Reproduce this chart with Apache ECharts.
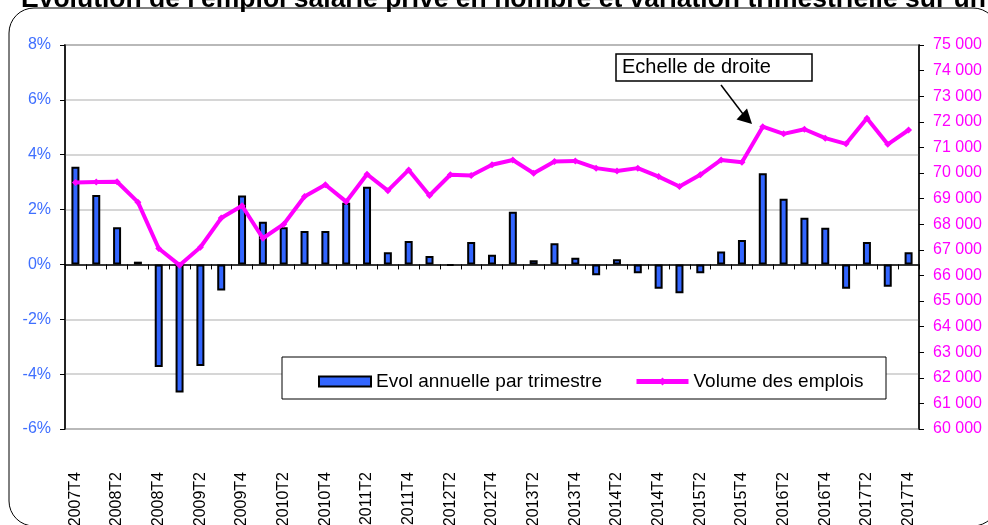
<!DOCTYPE html>
<html>
<head>
<meta charset="utf-8">
<script src="https://cdn.jsdelivr.net/npm/echarts@6/dist/echarts.min.js"></script>
<style>
  html, body { margin: 0; padding: 0; background: #fff; }
  #chart { width: 988px; height: 525px; }
</style>
</head>
<body>
<div id="chart"></div>
<script>
// trimestres 2007T4 -> 2017T4
var quarters = [];
for (var y = 2007; y <= 2017; y++) {
  for (var q = 1; q <= 4; q++) {
    if (y === 2007 && q < 4) continue;
    quarters.push(y + 'T' + q);
  }
}

// évolution annuelle par trimestre (%)
var evolAnnuelle = [
  3.56, 2.53, 1.36, 0.10, -3.74, -4.67, -3.70, -0.95, 2.51, 1.56,
  1.36, 1.22, 1.22, 2.25, 2.83, 0.44, 0.85, 0.31, -0.05, 0.82,
  0.35, 1.92, 0.15, 0.77, 0.24, -0.39, 0.19, -0.32, -0.89, -1.05,
  -0.32, 0.47, 0.89, 3.32, 2.39, 1.70, 1.34, -0.89, 0.82, -0.81,
  0.44
];

// volume des emplois (échelle de droite)
var volumeEmplois = [
  69630, 69650, 69660, 68860, 67050, 66400, 67100, 68240, 68720, 67450,
  68000, 69080, 69540, 68880, 69950, 69310, 70120, 69120, 69930, 69900,
  70320, 70510, 69990, 70450, 70470, 70190, 70080, 70190, 69860, 69470,
  69930, 70510, 70420, 71810, 71530, 71710, 71360, 71140, 72140, 71120,
  71680
];

var seriesNames = ['Evol annuelle par trimestre', 'Volume des emplois'];
var fontFam = '"Liberation Sans", Arial, sans-serif';

var chart = echarts.init(document.getElementById('chart'));
chart.setOption({
  animation: false,
  textStyle: { fontFamily: fontFam },
  grid: {
    left: 65,
    right: 69,
    top: 45,
    bottom: 96,
    outerBoundsMode: 'none',
    show: true,
    borderColor: '#8a8a8a',
    borderWidth: 2
  },
  legend: {
    data: [
      {
        name: seriesNames[0],
        icon: 'rect',
        itemStyle: { color: '#3366ff', borderColor: '#000', borderWidth: 2 }
      },
      {
        name: seriesNames[1],
        lineStyle: { color: '#ff00ff', width: 5 }
      }
    ],
    left: 313,
    top: 367,
    itemWidth: 52,
    itemHeight: 10,
    itemGap: 32,
    textStyle: { fontSize: 19, color: '#000', fontFamily: fontFam },
    z: 20
  },
  xAxis: [
    {
      type: 'category',
      data: quarters,
      position: 'bottom',
      axisLine: { onZero: true, lineStyle: { color: '#000', width: 1.5 } },
      axisTick: { show: true, interval: 0, length: 5, lineStyle: { color: '#000' } },
      axisLabel: { show: false },
      splitLine: { show: false }
    },
    {
      type: 'category',
      data: quarters,
      position: 'bottom',
      axisLine: { show: false, onZero: false },
      axisTick: { show: false },
      axisLabel: {
        interval: 1,
        rotate: 90,
        margin: 43,
        fontSize: 16,
        color: '#000',
        fontFamily: fontFam
      },
      splitLine: { show: false }
    }
  ],
  yAxis: [
    {
      type: 'value',
      min: -6,
      max: 8,
      interval: 2,
      axisLine: { show: true, lineStyle: { color: '#000', width: 1.5 } },
      axisTick: { show: true, length: 5, lineStyle: { color: '#000' } },
      axisLabel: {
        formatter: '{value}%',
        color: '#3f6fff',
        fontSize: 16,
        margin: 14,
        fontFamily: fontFam
      },
      splitLine: { show: true, lineStyle: { color: '#c8c8c8', width: 1.5 } }
    },
    {
      type: 'value',
      min: 60000,
      max: 75000,
      interval: 1000,
      position: 'right',
      axisLine: { show: true, lineStyle: { color: '#000', width: 1.5 } },
      axisTick: { show: true, length: 5, lineStyle: { color: '#000' } },
      axisLabel: {
        color: '#ff00ff',
        fontSize: 16,
        margin: 14,
        fontFamily: fontFam,
        formatter: function (v) {
          return String(v).replace(/\B(?=(\d{3})+(?!\d))/g, ' ');
        }
      },
      splitLine: { show: false }
    }
  ],
  series: [
    {
      name: seriesNames[0],
      type: 'bar',
      xAxisIndex: 0,
      yAxisIndex: 0,
      data: evolAnnuelle,
      barWidth: 8,
      itemStyle: { color: '#3366ff', borderColor: '#000', borderWidth: 2 }
    },
    {
      name: seriesNames[1],
      type: 'line',
      xAxisIndex: 0,
      yAxisIndex: 1,
      data: volumeEmplois,
      symbol: 'diamond',
      symbolSize: 7,
      lineStyle: { color: '#ff00ff', width: 4 },
      itemStyle: { color: '#ff00ff' },
      z: 5
    }
  ],
  graphic: [
    {
      type: 'rect',
      shape: { x: 9, y: 8, width: 989, height: 518, r: 25 },
      style: { fill: 'none', stroke: '#000', lineWidth: 1 },
      silent: true,
      z: 1
    },
    {
      type: 'text',
      left: 21,
      top: -14,
      style: {
        text: "Evolution de l'emploi salarié privé en nombre et variation trimestrielle sur un an",
        font: 'bold 26.5px ' + fontFam,
        fill: '#000'
      },
      z: 30
    },
    {
      type: 'rect',
      shape: { x: 282, y: 357, width: 604, height: 42 },
      style: { fill: '#fff', stroke: '#000', lineWidth: 1 },
      z: 10
    },
    {
      type: 'rect',
      shape: { x: 616, y: 54, width: 196, height: 27 },
      style: { fill: '#fff', stroke: '#000', lineWidth: 1.5 },
      z: 10
    },
    {
      type: 'text',
      left: 622,
      top: 57,
      style: {
        text: 'Echelle de droite',
        font: '20px ' + fontFam,
        fill: '#000'
      },
      z: 11
    },
    {
      type: 'line',
      shape: { x1: 721, y1: 85, x2: 743, y2: 114 },
      style: { stroke: '#000', lineWidth: 1.5 },
      z: 11
    },
    {
      type: 'polygon',
      shape: { points: [[736.5, 119.5], [752, 124], [747, 108.5]] },
      style: { fill: '#000' },
      z: 11
    }
  ]
});
</script>
</body>
</html>
